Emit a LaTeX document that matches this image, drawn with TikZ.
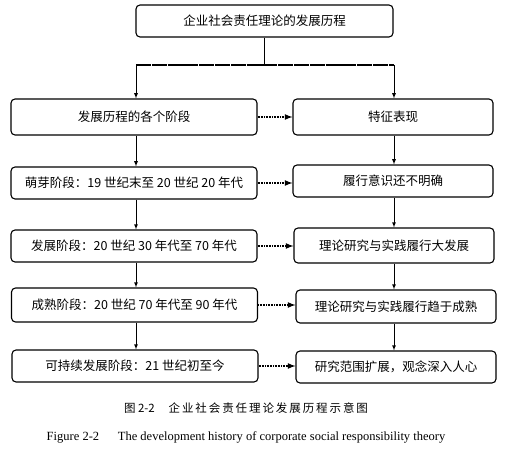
\documentclass[tikz,border=0pt]{standalone}
\usepackage{fontspec}
\setmainfont{Noto Sans CJK SC}
\newfontfamily\enfont{Liberation Serif}
\usepackage{tikz}
\usetikzlibrary{positioning}

\tikzset{
	stagebox/.style={shape=rectangle, draw, rounded corners=4pt, line width=1.1pt, minimum width=246pt, minimum height=32pt, inner sep=2pt, font=\fontsize{12.5}{15}\selectfont},
	featbox/.style={stagebox, minimum width=200pt},
	link/.style={-latex, line width=0.8pt},
	dotlink/.style={-latex, line width=1.6pt, dash pattern=on 1pt off 0.6pt},
}

\begin{document}
\begin{tikzpicture}[x=1pt, y=-1pt]
	\useasboundingbox (0, 0) rectangle (516, 449);
	% Boxes:
	\node[stagebox, minimum width=257pt] (top) at (264.5, 21){企业社会责任理论的发展历程};
	\node[stagebox, minimum height=36pt] (stage0) at (134, 117){发展历程的各个阶段};
	\node[featbox, minimum height=36pt] (feat0) at (393, 117){特征表现};
	\node[stagebox] (stage1) at (134, 183){萌芽阶段：19 世纪末至 20 世纪 20 年代};
	\node[featbox] (feat1) at (393, 181){履行意识还不明确};
	\node[stagebox] (stage2) at (134, 246){发展阶段：20 世纪 30 年代至 70 年代};
	\node[featbox, minimum height=35pt] (feat2) at (394, 245.5){理论研究与实践履行大发展};
	\node[stagebox, minimum height=34pt] (stage3) at (134.5, 305){成熟阶段：20 世纪 70 年代至 90 年代};
	\node[featbox, minimum height=33pt] (feat3) at (396, 306.5){理论研究与实践履行趋于成熟};
	\node[stagebox] (stage4) at (135, 366){可持续发展阶段：21 世纪初至今};
	\node[featbox] (feat4) at (396, 367){研究范围扩展，观念深入人心};
	% Split from the top box:
	\coordinate (busL) at (136, 65);
	\coordinate (busR) at (394, 65);
	\draw[line width=0.8pt] (top.south) -- (top.south |- busL);
	\draw[line width=1.8pt, dash pattern=on 15pt off 0.8pt] (busL) -- (busR);
	\draw[link] (busL) -- (busL |- stage0.north);
	\draw[link] (busR) -- (busR |- feat0.north);
	% Arrows down each column:
	\foreach \a/\b in {0/1, 1/2, 2/3, 3/4}{
		\draw[link] (busL |- stage\a.south) -- (busL |- stage\b.north);
		\draw[link] (busR |- feat\a.south) -- (busR |- feat\b.north);
	}
	% Arrows across:
	\foreach \i in {0, ..., 4}{
		\draw[dotlink] (stage\i.east) -- (stage\i.east -| feat\i.west);
	}
	% Captions:
	\node[font=\fontsize{11.5}{14}\selectfont] (cap) at (246, 408){图 2-2\hspace{1.2em}企\,业\,社\,会\,责\,任\,理\,论\,发\,展\,历\,程\,示\,意\,图};
	\node[font=\enfont\fontsize{12.5}{15}\selectfont] (capen) at (246, 437){Figure 2-2\hspace{1.5em}The development history of corporate social responsibility theory};
\end{tikzpicture}
\end{document}
